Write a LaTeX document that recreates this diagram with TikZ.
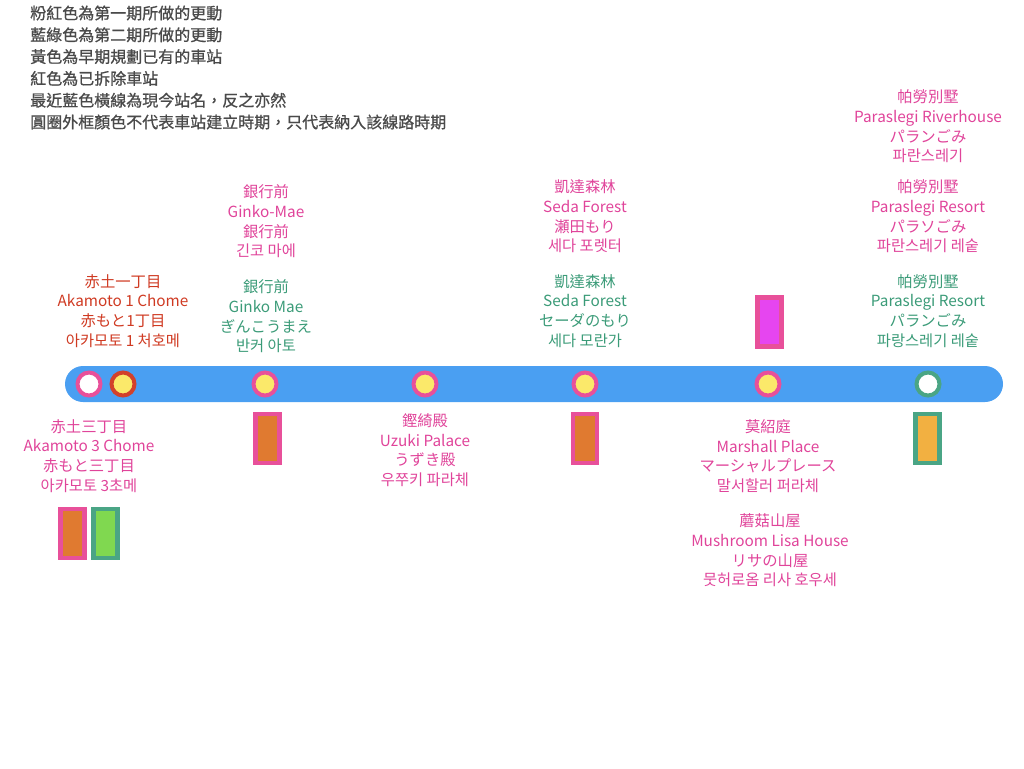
\documentclass[tikz,border=0pt]{standalone}
\usepackage{fontspec}
\usepackage{xcolor}
\usepackage{tikz}
\usetikzlibrary{positioning, shapes}
\newfontfamily\cjk{Noto Sans CJK TC}
\newfontfamily\cjkmed[FakeBold=0.9]{Noto Sans CJK TC}
\definecolor{barblue}{HTML}{4A9FF2}
\definecolor{pinkring}{HTML}{E8509A}
\definecolor{redring}{HTML}{D2412A}
\definecolor{tealring}{HTML}{4AA585}
\definecolor{stopyellow}{HTML}{FBE96A}
\definecolor{planorange}{HTML}{E07A30}
\definecolor{planmagenta}{HTML}{E645F0}
\definecolor{plangreen}{HTML}{80D850}
\definecolor{plangold}{HTML}{F2B041}
\definecolor{pinktxt}{HTML}{E0449A}
\definecolor{tealtxt}{HTML}{3B9B78}
\definecolor{redtxt}{HTML}{CF3A22}
\definecolor{legendgray}{HTML}{4A4A4A}
\tikzstyle{lbl} = [align=center, inner sep=0pt, font=\cjk\fontsize{11.5}{14.8}\selectfont]
\tikzstyle{pinklbl} = [lbl, text=pinktxt]
\tikzstyle{teallbl} = [lbl, text=tealtxt]
\tikzstyle{redlbl} = [lbl, text=redtxt]
\tikzstyle{stop} = [circle, line width=3pt, minimum size=17.25pt, inner sep=0pt, draw=pinkring, fill=stopyellow]
\tikzstyle{plan} = [rectangle, line width=3.6pt, minimum width=18pt, minimum height=36.75pt, inner sep=0pt, draw=pinkring, fill=planorange]

\begin{document}
\begin{tikzpicture}[x=0.75pt, y=-0.75pt]
    \useasboundingbox (0,0) rectangle (1024,768);

    % Leyenda
    \node (legend) [anchor=west, align=left, inner sep=0pt, text=legendgray, font=\cjkmed\fontsize{12}{16.35}\selectfont] at (30,67.5) {粉紅色為第一期所做的更動\\藍綠色為第二期所做的更動\\黃色為早期規劃已有的車站\\紅色為已拆除車站\\最近藍色橫線為現今站名，反之亦然\\圓圈外框顏色不代表車站建立時期，只代表納入該線路時期};

    % Linea
    \fill [barblue, rounded corners=13.5pt] (65,366) rectangle (1003,402);

    % Estaciones
    \node (aka3) [stop, fill=white] at (89,384) {};
    \node (aka1) [stop, draw=redring] at (123,384) {};
    \node (ginko) [stop] at (265,384) {};
    \node (uzuki) [stop] at (425,384) {};
    \node (seda) [stop] at (585,384) {};
    \node (marshall) [stop] at (768,384) {};
    \node (para) [stop, draw=tealring, fill=white] at (928,384) {};

    % Bloques
    \node (ginkoplan) [plan] at (267.5,438.5) {};
    \node (sedaplan) [plan] at (585,438.5) {};
    \node (marshallplan) [plan, fill=planmagenta] at (769.5,322) {};
    \node (paraplan) [plan, draw=tealring, fill=plangold] at (927.5,438.5) {};
    \node (akaplanA) [plan] at (72.5,533.5) {};
    \node (akaplanB) [plan, draw=tealring, fill=plangreen, right=3pt of akaplanA] {};

    % Nombres
    \node (aka1name) [redlbl] at (123,311) {赤土一丁目\\Akamoto 1 Chome\\赤もと1丁目\\아카모토 1 처호메};
    \node (ginkonameA) [pinklbl] at (266,221.5) {銀行前\\Ginko-Mae\\銀行前\\긴코 마에};
    \node (ginkonameB) [teallbl] at (266,316.5) {銀行前\\Ginko Mae\\ぎんこうまえ\\반커 아토};
    \node (sedanameA) [pinklbl] at (585,216.5) {凱達森林\\Seda Forest\\瀬田もり\\세다 포렛터};
    \node (sedanameB) [teallbl] at (585,311) {凱達森林\\Seda Forest\\セーダのもり\\세다 모란가};
    \node (paranameA) [pinklbl] at (928,126.5) {帕勞別墅\\Paraslegi Riverhouse\\パランごみ\\파란스레기};
    \node (paranameB) [pinklbl] at (928,216.5) {帕勞別墅\\Paraslegi Resort\\パラソごみ\\파란스레기 레숱};
    \node (paranameC) [teallbl] at (928,311) {帕勞別墅\\Paraslegi Resort\\パランごみ\\파랑스레기 레숱};
    \node (aka3name) [pinklbl] at (89,456) {赤土三丁目\\Akamoto 3 Chome\\赤もと三丁目\\아카모토 3초메};
    \node (uzukiname) [pinklbl] at (425,450) {鏗綺殿\\Uzuki Palace\\うずき殿\\우쭈키 파라체};
    \node (marshallname) [pinklbl] at (768,456) {莫紹庭\\Marshall Place\\マーシャルプレース\\말서할러 퍼라체};
    \node (mushroomname) [pinklbl] at (770,550.5) {蘑菇山屋\\Mushroom Lisa House\\リサの山屋\\뭇허로옴 리사 호우세};
\end{tikzpicture}
\end{document}
